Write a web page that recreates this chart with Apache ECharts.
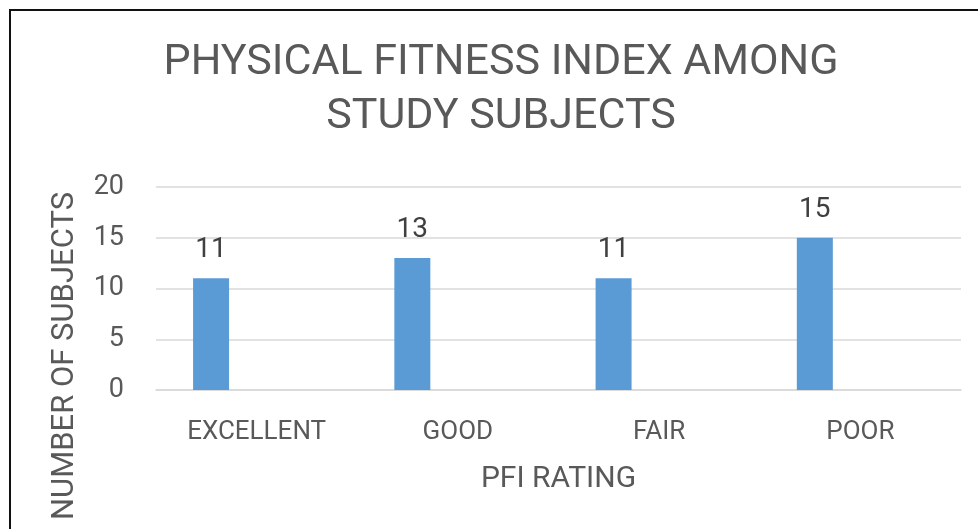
<!DOCTYPE html>
<html>
<head>
<meta charset="utf-8">
<script src="https://cdn.jsdelivr.net/npm/echarts@6/dist/echarts.min.js"></script>
<style>
  html, body { margin: 0; padding: 0; background: #fff; }
  #chart { width: 978px; height: 529px; }
</style>
</head>
<body>
<div id="chart"></div>
<script>
// PFI rating categories and counts
const categories = ['EXCELLENT', 'GOOD', 'FAIR', 'POOR'];
const subjects = [11, 13, 11, 15];
// second series in the original sheet holds no values
const emptySeries = [null, null, null, null];
const yTicks = { min: 0, max: 20, interval: 5 };

const textColor = '#595959';
const font = 'Roboto, sans-serif';

const chart = echarts.init(document.getElementById('chart'));

chart.setOption({
  animation: false,
  title: {
    text: 'PHYSICAL FITNESS INDEX AMONG\nSTUDY SUBJECTS',
    left: 496,
    top: 31,
    textAlign: 'center',
    textStyle: {
      fontFamily: font,
      fontWeight: 'normal',
      fontSize: 43,
      lineHeight: 54,
      color: textColor
    }
  },
  grid: {
    left: 156,
    right: 17,
    top: 187,
    bottom: 139
  },
  xAxis: {
    type: 'category',
    data: categories,
    name: 'PFI RATING',
    nameLocation: 'middle',
    nameGap: 74,
    nameTextStyle: {
      fontFamily: font,
      fontSize: 30,
      color: textColor
    },
    axisLine: { lineStyle: { color: '#d9d9d9', width: 1.5 } },
    axisTick: { show: false },
    axisLabel: {
      interval: 0,
      margin: 29,
      fontFamily: font,
      fontSize: 26,
      color: textColor
    }
  },
  yAxis: {
    type: 'value',
    min: yTicks.min,
    max: yTicks.max,
    interval: yTicks.interval,
    axisLine: { show: false },
    axisTick: { show: false },
    axisLabel: {
      margin: 32,
      fontFamily: font,
      fontSize: 27,
      color: textColor
    },
    splitLine: { lineStyle: { color: '#d9d9d9', width: 1.5 } }
  },
  series: [
    {
      type: 'bar',
      data: subjects,
      barWidth: 36,
      barGap: '153%',
      itemStyle: { color: '#5b9bd5' },
      label: {
        show: true,
        position: 'top',
        distance: 14,
        fontFamily: font,
        fontSize: 28,
        color: '#404040'
      }
    },
    {
      type: 'bar',
      data: emptySeries,
      barWidth: 36,
      itemStyle: { color: '#ed7d31' }
    }
  ],
  graphic: [
    {
      type: 'rect',
      shape: { x: 10, y: 10, width: 1100, height: 700 },
      style: { fill: 'none', stroke: '#111', lineWidth: 2 },
      silent: true
    },
    {
      type: 'text',
      x: 65,
      y: 356,
      rotation: Math.PI / 2,
      style: {
        text: 'NUMBER OF SUBJECTS',
        fontFamily: font,
        fontSize: 31,
        fill: textColor,
        align: 'center',
        verticalAlign: 'middle'
      }
    }
  ]
});
</script>
</body>
</html>
